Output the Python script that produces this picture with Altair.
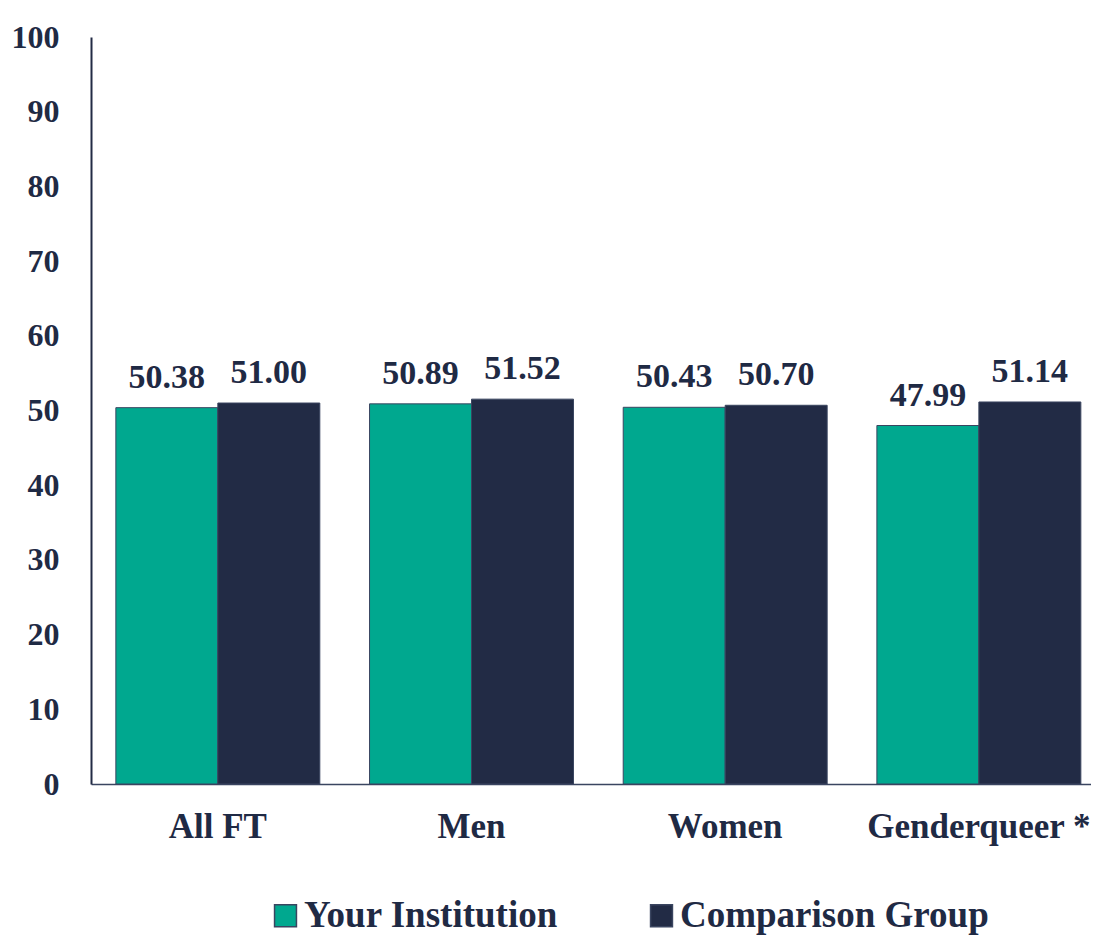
import altair as alt
import pandas as pd

categories = ["All FT", "Men", "Women", "Genderqueer *"]
series = ["Your Institution", "Comparison Group"]
your_institution = [50.38, 50.89, 50.43, 47.99]
comparison_group = [51.00, 51.52, 50.70, 51.14]

rows = []
for c, a, b in zip(categories, your_institution, comparison_group):
    rows.append({"cat": c, "series": series[0], "value": a, "label": f"{a:.2f}"})
    rows.append({"cat": c, "series": series[1], "value": b, "label": f"{b:.2f}"})
df = pd.DataFrame(rows)

FONT = "Liberation Serif"
TXT = "#1F2A44"
colors = ["#00A88F", "#222B45"]

x = alt.X("cat:N", sort=categories, title=None,
          scale=alt.Scale(paddingInner=0.196, paddingOuter=0.069, align=0.71),
          axis=alt.Axis(labelAngle=0, ticks=False, labelPadding=25, labelFontSize=35,
                        labelFont=FONT, labelFontWeight="bold", labelColor=TXT,
                        domainColor="#3A4560", domainWidth=1.5, labelLimit=400))
xo = alt.XOffset("series:N", sort=series, scale=alt.Scale(paddingInner=0, paddingOuter=0))
y = alt.Y("value:Q", title=None,
          scale=alt.Scale(domain=[0, 100], nice=False),
          axis=alt.Axis(values=list(range(0, 101, 10)), grid=False, ticks=False,
                        labelPadding=32, labelFontSize=32, labelFont=FONT,
                        labelFontWeight="bold", labelColor=TXT,
                        domainColor="#222B45", domainWidth=2))

bars = alt.Chart(df).mark_bar(stroke="#3A4560", strokeWidth=1).encode(
    x=x, xOffset=xo, y=y,
    color=alt.Color("series:N", sort=series, title=None,
                    scale=alt.Scale(domain=series, range=colors),
                    legend=alt.Legend(orient="none", legendX=176, legendY=860,
                                      direction="horizontal", symbolType="square",
                                      symbolSize=480, symbolStrokeColor="#3A4560",
                                      symbolStrokeWidth=1.5, labelFontSize=37,
                                      labelFont=FONT, labelFontWeight="bold",
                                      labelColor=TXT, columnPadding=85,
                                      labelOffset=0, labelLimit=500)),
)

text = alt.Chart(df).mark_text(font=FONT, fontSize=34, fontWeight="bold", color=TXT,
                               baseline="alphabetic", dy=-20).encode(
    x=alt.X("cat:N", sort=categories), xOffset=xo, y="value:Q", text="label:N"
)

chart = (bars + text).properties(
    width=1000, height=747,
    autosize=alt.AutoSizeParams(type="none"),
    padding={"left": 83, "top": 29, "right": 0, "bottom": 152},
).configure_view(stroke=None)

chart.save("out.html", embed_options={"renderer": "svg", "actions": False})
